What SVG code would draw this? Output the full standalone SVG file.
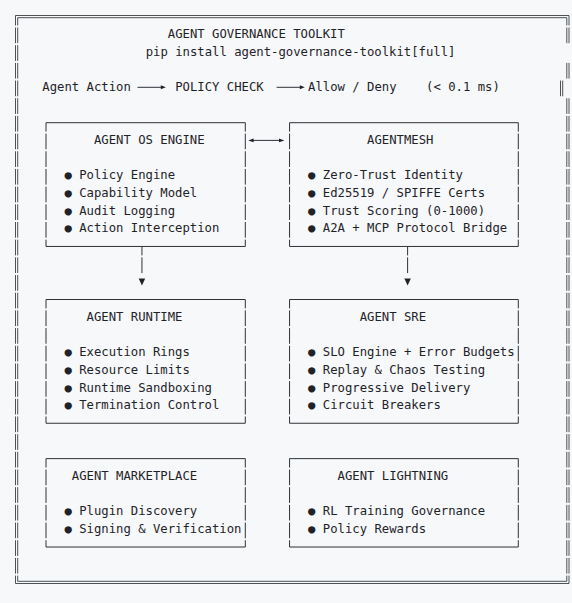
<svg xmlns="http://www.w3.org/2000/svg" width="572" height="603" viewBox="0 0 572 603">
<style>
text{font-family:"DejaVu Sans Mono","Liberation Mono",monospace;font-size:12.26px;fill:#1f2328;}
.bx{fill:none;stroke:#2f3337;stroke-width:1;}
.v{fill:none;stroke:#2f3337;stroke-width:1;stroke-dasharray:15.68 2;stroke-dashoffset:6.78;}
.dl{fill:none;stroke:#3a3e42;stroke-width:0.9;}
.dv{fill:none;stroke:#3a3e42;stroke-width:0.9;stroke-dasharray:15.68 2;}
.ar{fill:#1f2328;stroke:none;}
</style>
<rect width="572" height="603" fill="#f6f8fa"/>

<g id="frame">
<path class="dl" d="M15.5 15.5H569M17.7 17.7H566.8M17.7 581.3H566.8M15.5 583.5H569"/>
<path class="dv" style="stroke-dashoffset:5.66" d="M15.5 15.5V583.5"/>
<path class="dv" style="stroke-dashoffset:7.86" d="M17.7 17.7V581.3"/>
<path class="dv" style="stroke-dashoffset:5.66" d="M569 15.5V43.2"/>
<path class="dv" style="stroke-dashoffset:7.86" d="M566.8 17.7V43.2"/>
<path class="dl" d="M569 62.88V78.56M566.8 62.88V78.56M562.7 80.56V96.24M560.5 80.56V96.24"/>
<path class="dv" d="M569 98.24V583.5M566.8 98.24V581.3"/>
</g>

<g id="header">
<text x="167.78" y="37.9">AGENT GOVERNANCE TOOLKIT</text>
<text x="145.64" y="55.58">pip install agent-governance-toolkit[full]</text>
<text x="42.32" y="90.94">Agent Action</text>
<text x="175.16" y="90.94">POLICY CHECK</text>
<text x="308" y="90.94">Allow / Deny</text>
<text x="426.08" y="90.94">(&lt; 0.1 ms)</text>
</g>

<g id="agent-os-engine">
<path class="bx" d="M46 122.7H245.3M46 246.46H245.3"/>
<path class="v" d="M46 122.7V246.46M245.3 122.7V246.46"/>
<text x="93.98" y="143.98">AGENT OS ENGINE</text>
<text y="179.34"><tspan x="64.46">●</tspan><tspan x="79.22">Policy Engine</tspan></text>
<text y="197.02"><tspan x="64.46">●</tspan><tspan x="79.22">Capability Model</tspan></text>
<text y="214.7"><tspan x="64.46">●</tspan><tspan x="79.22">Audit Logging</tspan></text>
<text y="232.38"><tspan x="64.46">●</tspan><tspan x="79.22">Action Interception</tspan></text>
</g>

<g id="agentmesh">
<path class="bx" d="M289.55 122.7H518.3M289.55 246.46H518.3"/>
<path class="v" d="M289.55 122.7V246.46M518.3 122.7V246.46"/>
<text x="367.04" y="143.98">AGENTMESH</text>
<text y="179.34"><tspan x="308">●</tspan><tspan x="322.76">Zero-Trust Identity</tspan></text>
<text y="197.02"><tspan x="308">●</tspan><tspan x="322.76">Ed25519 / SPIFFE Certs</tspan></text>
<text y="214.7"><tspan x="308">●</tspan><tspan x="322.76">Trust Scoring (0-1000)</tspan></text>
<text y="232.38"><tspan x="308">●</tspan><tspan x="322.76">A2A + MCP Protocol Bridge</tspan></text>
</g>

<g id="agent-runtime">
<path class="bx" d="M46 299.5H245.3M46 423.26H245.3"/>
<path class="v" d="M46 299.5V423.26M245.3 299.5V423.26"/>
<text x="86.6" y="320.78">AGENT RUNTIME</text>
<text y="356.14"><tspan x="64.46">●</tspan><tspan x="79.22">Execution Rings</tspan></text>
<text y="373.82"><tspan x="64.46">●</tspan><tspan x="79.22">Resource Limits</tspan></text>
<text y="391.5"><tspan x="64.46">●</tspan><tspan x="79.22">Runtime Sandboxing</tspan></text>
<text y="409.18"><tspan x="64.46">●</tspan><tspan x="79.22">Termination Control</tspan></text>
</g>

<g id="agent-sre">
<path class="bx" d="M289.55 299.5H518.3M289.55 423.26H518.3"/>
<path class="v" d="M289.55 299.5V423.26M518.3 299.5V423.26"/>
<text x="359.66" y="320.78">AGENT SRE</text>
<text y="356.14"><tspan x="308">●</tspan><tspan x="322.76">SLO Engine + Error Budgets</tspan></text>
<text y="373.82"><tspan x="308">●</tspan><tspan x="322.76">Replay &amp; Chaos Testing</tspan></text>
<text y="391.5"><tspan x="308">●</tspan><tspan x="322.76">Progressive Delivery</tspan></text>
<text y="409.18"><tspan x="308">●</tspan><tspan x="322.76">Circuit Breakers</tspan></text>
</g>

<g id="agent-marketplace">
<path class="bx" d="M46 458.62H245.3M46 547.02H245.3"/>
<path class="v" d="M46 458.62V547.02M245.3 458.62V547.02"/>
<text x="71.84" y="479.9">AGENT MARKETPLACE</text>
<text y="515.26"><tspan x="64.46">●</tspan><tspan x="79.22">Plugin Discovery</tspan></text>
<text y="532.94"><tspan x="64.46">●</tspan><tspan x="79.22">Signing &amp; Verification</tspan></text>
</g>

<g id="agent-lightning">
<path class="bx" d="M289.55 458.62H518.3M289.55 547.02H518.3"/>
<path class="v" d="M289.55 458.62V547.02M518.3 458.62V547.02"/>
<text x="337.52" y="479.9">AGENT LIGHTNING</text>
<text y="515.26"><tspan x="308">●</tspan><tspan x="322.76">RL Training Governance</tspan></text>
<text y="532.94"><tspan x="308">●</tspan><tspan x="322.76">Policy Rewards</tspan></text>
</g>

<g id="connectors">
<path class="bx" d="M137.5 87.3H161.5"/>
<path class="ar" d="M160.8 85.3L165.8 87.3L160.8 89.3Z"/>
<path class="bx" d="M276.6 87.3H300.5"/>
<path class="ar" d="M299.8 85.3L304.8 87.3L299.8 89.3Z"/>
<path class="bx" d="M252 140.4H280.5"/>
<path class="ar" d="M248.3 140.4L253.6 138.5L253.6 142.3Z"/>
<path class="ar" d="M284.3 140.4L279 138.5L279 142.3Z"/>
<path class="v" d="M141.95 246.46V273.04M407.6 246.46V273.04"/>
<path class="ar" d="M138.7 278.6H145.2L141.95 285.6Z"/>
<path class="ar" d="M404.35 278.6H410.85L407.6 285.6Z"/>
</g>
</svg>
